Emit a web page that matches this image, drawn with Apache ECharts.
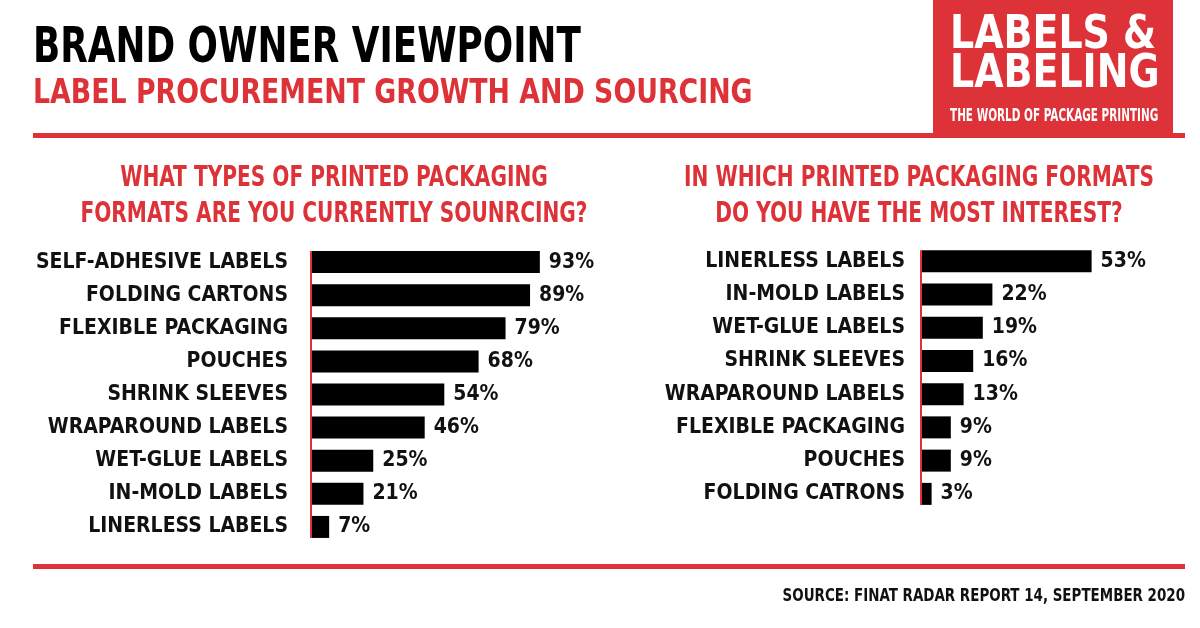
<!DOCTYPE html>
<html>
<head>
<meta charset="utf-8">
<script src="https://cdn.jsdelivr.net/npm/echarts@6/dist/echarts.min.js"></script>
<style>
  html, body { margin: 0; padding: 0; background: #fff; }
  #main { width: 1200px; height: 628px; }
</style>
</head>
<body>
<div id="main"></div>
<script>
var RED = '#dc3238';
var FONT = "'Liberation Sans Narrow', 'DejaVu Sans Condensed', sans-serif";

// left: what types are you currently sourcing
var leftCats = ['SELF-ADHESIVE LABELS', 'FOLDING CARTONS', 'FLEXIBLE PACKAGING', 'POUCHES',
  'SHRINK SLEEVES', 'WRAPAROUND LABELS', 'WET-GLUE LABELS', 'IN-MOLD LABELS', 'LINERLESS LABELS'];
var leftVals = [93, 89, 79, 68, 54, 46, 25, 21, 7];

// right: most interest
var rightCats = ['LINERLESS LABELS', 'IN-MOLD LABELS', 'WET-GLUE LABELS', 'SHRINK SLEEVES',
  'WRAPAROUND LABELS', 'FLEXIBLE PACKAGING', 'POUCHES', 'FOLDING CATRONS'];
var rightVals = [53, 22, 19, 16, 13, 9, 9, 3];

var myChart = echarts.init(document.getElementById('main'));

function catAxis(idx, cats, margin) {
  return {
    type: 'category', gridIndex: idx, data: cats, inverse: true,
    axisLine: { show: false }, axisTick: { show: false },
    axisLabel: { color: '#111', fontFamily: FONT, fontWeight: 'bold', fontSize: 21, margin: margin }
  };
}
function valAxis(idx, max) {
  return { type: 'value', gridIndex: idx, min: 0, max: max, show: false, splitLine: { show: false } };
}
function barSeries(idx, vals) {
  return {
    type: 'bar', xAxisIndex: idx, yAxisIndex: idx, data: vals, barWidth: 22,
    itemStyle: { color: '#000' },
    label: {
      show: true, position: 'right', distance: 9, formatter: '{c}%',
      color: '#111', fontFamily: FONT, fontWeight: 'bold', fontSize: 21
    }
  };
}

// squeezed text so the wide fallback font looks like the condensed original
function txt(x, y, s, size, color, sx, align) {
  return {
    type: 'text', x: x, y: y, scaleX: sx,
    style: { text: s, fill: color, font: 'bold ' + size + 'px ' + FONT, align: align || 'left', verticalAlign: 'top', lineHeight: 36 }
  };
}

var graphics = [
  txt(33, 31, 'BRAND OWNER VIEWPOINT', 50, '#000', 0.795),
  txt(33, 76, 'LABEL PROCUREMENT GROWTH AND SOURCING', 34, RED, 0.876),
  // logo box
  { type: 'rect', shape: { x: 933, y: 0, width: 240, height: 134 }, style: { fill: RED } },
  txt(950, 18.5, 'LABELS &', 46, '#fff', 0.917),
  txt(950, 57, 'LABELING', 46, '#fff', 0.917),
  txt(950, 98.5, 'THE WORLD OF PACKAGE PRINTING', 17, '#fff', 0.683),
  // rules
  { type: 'rect', shape: { x: 33, y: 133, width: 1152, height: 5 }, style: { fill: RED } },
  { type: 'rect', shape: { x: 33, y: 564, width: 1152, height: 5 }, style: { fill: RED } },
  // question headings
  txt(334, 161, 'WHAT TYPES OF PRINTED PACKAGING\nFORMATS ARE YOU CURRENTLY SOUNRCING?', 28, RED, 0.8, 'center'),
  txt(919, 161, 'IN WHICH PRINTED PACKAGING FORMATS\nDO YOU HAVE THE MOST INTEREST?', 28, RED, 0.8, 'center'),
  // source
  txt(1185, 578, 'SOURCE: FINAT RADAR REPORT 14, SEPTEMBER 2020', 18, '#111', 0.83, 'right')
];

var option = {
  animation: false,
  grid: [
    { left: 312, top: 245.5, width: 245, height: 298 },
    { left: 922, top: 244.5, width: 240, height: 266 }
  ],
  xAxis: [valAxis(0, 100), valAxis(1, 75)],
  yAxis: [catAxis(0, leftCats, 24), catAxis(1, rightCats, 17)],
  series: [barSeries(0, leftVals), barSeries(1, rightVals)],
  graphic: graphics
};
myChart.setOption(option);

// red baseline from the first bar's top to the last bar's bottom
function baseline(gridIdx, cats) {
  var top = myChart.convertToPixel({ gridIndex: gridIdx }, [0, cats[0]]);
  var bot = myChart.convertToPixel({ gridIndex: gridIdx }, [0, cats[cats.length - 1]]);
  return {
    type: 'line', z: 10,
    shape: { x1: top[0] - 1, y1: top[1] - 11, x2: top[0] - 1, y2: bot[1] + 11 },
    style: { stroke: RED, lineWidth: 2 }
  };
}
myChart.setOption({ graphic: graphics.concat([baseline(0, leftCats), baseline(1, rightCats)]) });
</script>
</body>
</html>
